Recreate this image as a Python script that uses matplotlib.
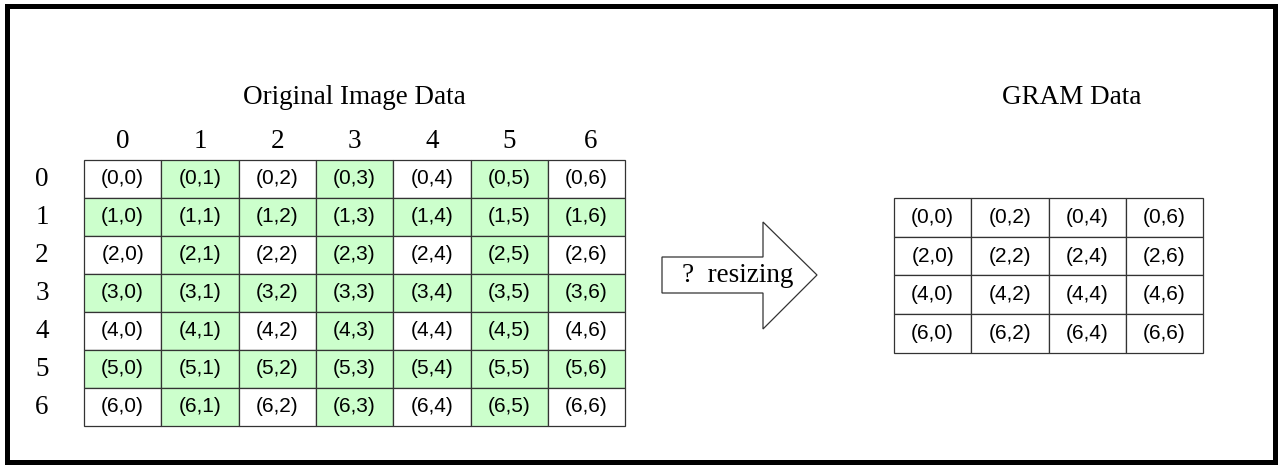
import matplotlib.pyplot as plt
from matplotlib.patches import Rectangle, Polygon

# data
src_rows = [0, 1, 2, 3, 4, 5, 6]
src_cols = [0, 1, 2, 3, 4, 5, 6]
gram_rows = [0, 2, 4, 6]
gram_cols = [0, 2, 4, 6]
title_left = 'Original Image Data'
title_right = 'GRAM Data'
arrow_label = '?  resizing'

green = '#ccffcc'
serif = 'Liberation Serif'
sans = 'Liberation Sans'

W, H = 1281, 468
fig = plt.figure(figsize=(W / 100, H / 100), dpi=100)
ax = fig.add_axes([0, 0, 1, 1])
ax.set_xlim(0, W)
ax.set_ylim(H, 0)
ax.axis('off')

# outer frame
ax.add_patch(Rectangle((6.5, 6), 1268.5, 456, fill=False, ec='black', lw=3.6))

cw, ch = 77.3, 38
x0, y0 = 84, 160

ax.text(354, 97, title_left, ha='center', va='center', fontsize=19.5, family=serif)
ax.text(1072, 97, title_right, ha='center', va='center', fontsize=19.5, family=serif)

for j, c in enumerate(src_cols):
    ax.text(x0 + cw * (j + 0.5) + (4 if j == 6 else 0), 141, str(c), ha='center', va='center',
            fontsize=19.5, family=serif)
for i, r in enumerate(src_rows):
    ax.text(42, y0 + ch * (i + 0.5), str(r), ha='center', va='center', fontsize=19.5, family=serif)
    for j, c in enumerate(src_cols):
        fc = green if (r % 2 == 1 or c % 2 == 1) else 'white'
        ax.add_patch(Rectangle((x0 + cw * j, y0 + ch * i), cw, ch, fc=fc, ec='#333333', lw=0.9))
        ax.text(x0 + cw * (j + 0.5), y0 + ch * (i + 0.5), '(%d,%d)' % (r, c),
                ha='center', va='center', fontsize=15, family=sans)

# arrow
arrow = Polygon([(662, 257), (763, 257), (763, 222), (817, 275), (763, 329), (763, 293), (662, 293)],
                closed=True, fc='white', ec='#333333', lw=0.9)
ax.add_patch(arrow)
ax.text(738, 275, arrow_label, ha='center', va='center', fontsize=19.5, family=serif)

gx0, gy0, gh = 894, 198, 38.7
for i, r in enumerate(gram_rows):
    for j, c in enumerate(gram_cols):
        ax.add_patch(Rectangle((gx0 + cw * j, gy0 + gh * i), cw, gh, fc='white', ec='#333333', lw=0.9))
        ax.text(gx0 + cw * (j + 0.5), gy0 + gh * (i + 0.5), '(%d,%d)' % (r, c),
                ha='center', va='center', fontsize=15, family=sans)

fig.savefig('out.png', dpi=100)
